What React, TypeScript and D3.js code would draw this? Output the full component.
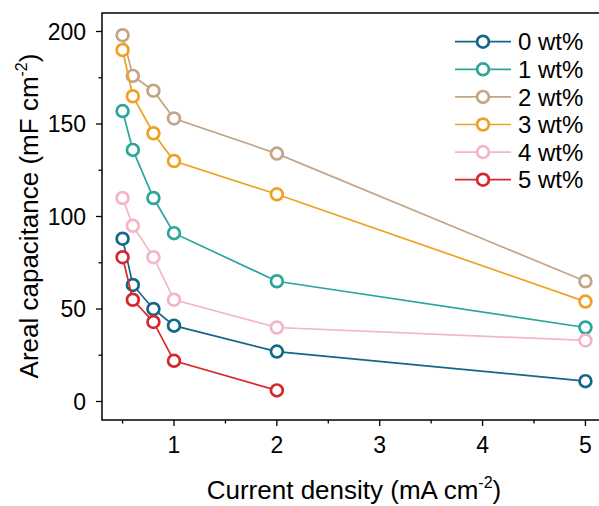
import React, { useEffect, useRef } from "react";
import * as d3 from "d3";

const xValues = [0.5, 0.6, 0.8, 1, 2, 5];
const seriesNames = ["0 wt%", "1 wt%", "2 wt%", "3 wt%", "4 wt%", "5 wt%"];
const s0 = [88, 63, 50, 41, 27, 11];
const s1 = [157, 136, 110, 91, 65, 40];
const s2 = [198, 176, 168, 153, 134, 65];
const s3 = [190, 165, 145, 130, 112, 54];
const s4 = [110, 95, 78, 55, 40, 33];
const s5 = [78, 55, 43, 22, 6];
const seriesValues = [s0, s1, s2, s3, s4, s5];
const colors = ["#136789", "#2aa69b", "#c3a585", "#eda321", "#f3b6c6", "#d6282a"];
const xTicks = [1, 2, 3, 4, 5];
const yTicks = [0, 50, 100, 150, 200];

const W = 599, H = 506;
const FONT = "'Liberation Sans', Arial, Helvetica, sans-serif";

export default function App() {
  const ref = useRef<SVGSVGElement>(null);
  useEffect(() => {
    const svg = d3.select(ref.current);
    svg.selectAll("*").remove();
    const left = 102, top = 13, bottom = 420, right = 606;
    const x = d3.scaleLinear().domain([0.3, 5.2]).range([left, right]);
    const y = d3.scaleLinear().domain([-10, 210]).range([bottom, top]);

    // frame
    svg.append("rect").attr("x", left).attr("y", top).attr("width", right - left).attr("height", bottom - top)
      .attr("fill", "none").attr("stroke", "#000").attr("stroke-width", 1.5);

    // y ticks
    const yg = svg.append("g").attr("font-family", FONT).attr("font-size", 23);
    d3.range(0, 201, 25).forEach((v) => {
      const major = v % 50 === 0;
      yg.append("line").attr("x1", left - (major ? 6 : 3.5)).attr("x2", left).attr("y1", y(v)).attr("y2", y(v))
        .attr("stroke", "#000").attr("stroke-width", 1.3);
    });
    yTicks.forEach((v) => {
      yg.append("text").attr("x", left - 16).attr("y", y(v)).attr("dy", "0.35em").attr("text-anchor", "end").text(v);
    });
    // x ticks
    const xg = svg.append("g").attr("font-family", FONT).attr("font-size", 23);
    d3.range(0.5, 5.01, 0.5).forEach((v) => {
      const major = Math.abs(v - Math.round(v)) < 1e-6;
      xg.append("line").attr("x1", x(v)).attr("x2", x(v)).attr("y1", bottom).attr("y2", bottom + (major ? 6 : 3.5))
        .attr("stroke", "#000").attr("stroke-width", 1.3);
    });
    xTicks.forEach((v) => {
      xg.append("text").attr("x", x(v)).attr("y", bottom + 33).attr("text-anchor", "middle").text(v);
    });

    // axis titles
    const xt = svg.append("text").attr("x", 354).attr("y", 499).attr("text-anchor", "middle")
      .attr("font-family", FONT).attr("font-size", 26);
    xt.append("tspan").text("Current density (mA cm");
    xt.append("tspan").attr("font-size", 16).attr("dy", -11).text("-2");
    xt.append("tspan").attr("dy", 11).text(")");

    const yt = svg.append("text").attr("transform", `translate(38,216) rotate(-90)`)
      .attr("text-anchor", "middle").attr("font-family", FONT).attr("font-size", 26);
    yt.append("tspan").text("Areal capacitance (mF cm");
    yt.append("tspan").attr("font-size", 16).attr("dy", -11).text("-2");
    yt.append("tspan").attr("dy", 11).text(")");

    const line = d3.line<[number, number]>().x((d) => x(d[0])).y((d) => y(d[1]));
    seriesValues.forEach((vals, i) => {
      const pts: [number, number][] = vals.map((v, j) => [xValues[j], v]);
      const g = svg.append("g");
      g.append("path").attr("d", line(pts)).attr("fill", "none").attr("stroke", colors[i]).attr("stroke-width", 1.7);
      g.selectAll("circle").data(pts).enter().append("circle")
        .attr("cx", (d) => x(d[0])).attr("cy", (d) => y(d[1])).attr("r", 5.9)
        .attr("fill", "#fff").attr("stroke", colors[i]).attr("stroke-width", 2.7);
    });

    // legend
    const lg = svg.append("g").attr("font-family", FONT).attr("font-size", 24);
    seriesNames.forEach((name, i) => {
      const cy = 41.7 + i * 27.6;
      lg.append("line").attr("x1", 455).attr("x2", 511).attr("y1", cy).attr("y2", cy)
        .attr("stroke", colors[i]).attr("stroke-width", 1.7);
      lg.append("circle").attr("cx", 483).attr("cy", cy).attr("r", 5.9).attr("fill", "#fff")
        .attr("stroke", colors[i]).attr("stroke-width", 2.7);
      lg.append("text").attr("x", 518).attr("y", cy).attr("dy", "0.36em").text(name);
    });
  }, []);
  return (
    <svg ref={ref} width={W} height={H} style={{ position: "absolute", left: 0, top: 0, background: "#fff" }} />
  );
}
